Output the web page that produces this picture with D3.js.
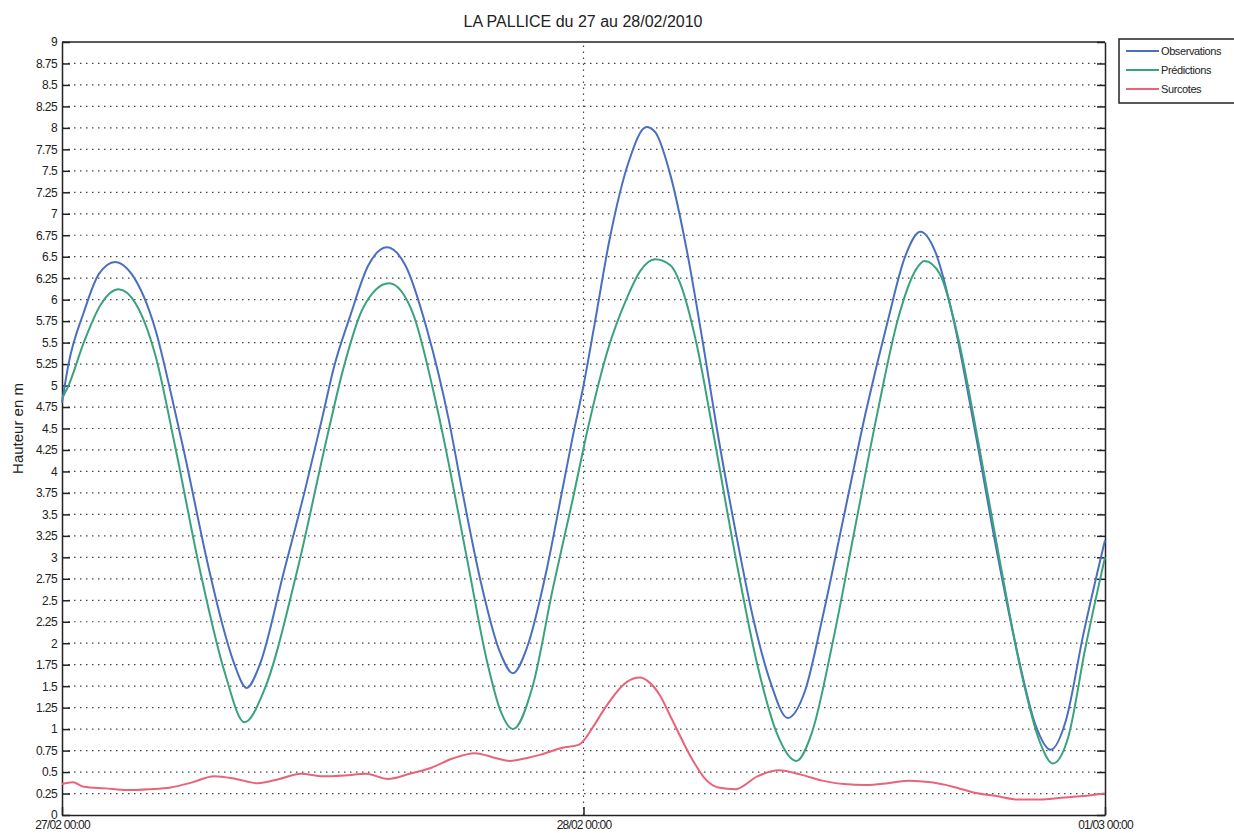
<!DOCTYPE html>
<html lang="fr">
<head>
<meta charset="UTF-8">
<title>LA PALLICE du 27 au 28/02/2010</title>
<style>
    body {
        margin: 0;
        background: #fff;
        font-family: 'Liberation Sans', Arial, sans-serif;
    }
    svg text { fill: #222; }
</style>
<script src="https://d3js.org/d3.v7.min.js"></script>
</head>
<body>
<div id="chart"></div>
<script>
    // [hours since 27/02 00:00, height in m]
    const observations = [
        [0, 4.80], [0.3, 5.25], [1, 5.85], [1.7, 6.30], [2.45, 6.44], [3.2, 6.30],
        [4.3, 5.65], [5.05, 4.87], [5.6, 4.25], [6.8, 2.82], [7.4, 2.20], [7.9, 1.78],
        [8.5, 1.48], [9.1, 1.75], [10.2, 2.82], [11.2, 3.80], [12.0, 4.65], [12.5, 5.20],
        [13.25, 5.80], [14.1, 6.40], [14.95, 6.61], [15.8, 6.40], [16.8, 5.65], [17.8, 4.60],
        [18.4, 3.80], [19.25, 2.74], [20.15, 1.90], [20.75, 1.65], [21.4, 1.95], [22.3, 2.85],
        [23.0, 3.75], [23.5, 4.40], [24.0, 5.00], [24.5, 5.70], [25.2, 6.70], [26.1, 7.62],
        [26.9, 8.01], [27.3, 7.95], [28.0, 7.45], [28.75, 6.58], [29.5, 5.49], [30.15, 4.48],
        [31.0, 3.30], [31.8, 2.30], [32.6, 1.55], [33.4, 1.13], [34.2, 1.45], [35.0, 2.30],
        [36.0, 3.50], [37.0, 4.70], [38.0, 5.75], [38.8, 6.50], [39.5, 6.79], [40.2, 6.55],
        [41.0, 5.80], [42.0, 4.50], [43.0, 3.10], [44.0, 1.85], [44.8, 1.05], [45.5, 0.76],
        [46.2, 1.10], [47.0, 2.10], [48.0, 3.20]
    ];

    const predictions = [
        [0, 4.85], [0.3, 5.00], [1, 5.50], [1.8, 5.95], [2.6, 6.12], [3.4, 5.95],
        [4.3, 5.35], [5.2, 4.30], [6.35, 2.85], [7.5, 1.65], [8.4, 1.08], [9.3, 1.45],
        [10.8, 2.82], [12.2, 4.40], [12.95, 5.20], [13.85, 5.90], [15.05, 6.19], [16.15, 5.84],
        [17.05, 4.98], [17.55, 4.40], [18.65, 2.97], [19.55, 1.80], [20.2, 1.20], [20.75, 1.00],
        [21.65, 1.49], [22.6, 2.65], [23.5, 3.67], [24.2, 4.50], [25.1, 5.40], [26.0, 6.02],
        [26.6, 6.33], [27.3, 6.47], [28.0, 6.40], [28.45, 6.19], [29.2, 5.49], [29.95, 4.48],
        [31.0, 3.00], [32.0, 1.75], [32.9, 0.95], [33.8, 0.63], [34.5, 0.95], [35.5, 2.05],
        [36.5, 3.35], [37.5, 4.65], [38.5, 5.80], [39.3, 6.35], [39.7, 6.45], [40.4, 6.30],
        [41.2, 5.60], [42.2, 4.30], [43.2, 2.90], [44.2, 1.60], [45.0, 0.85], [45.6, 0.60],
        [46.3, 0.90], [47.1, 1.95], [48.0, 3.00]
    ];

    const surcotes = [
        [0, 0.36], [0.5, 0.38], [1, 0.33], [2, 0.31], [3, 0.29], [4, 0.30], [5, 0.32],
        [6, 0.38], [7, 0.45], [8, 0.42], [9, 0.37], [10, 0.42], [11, 0.48], [12, 0.45],
        [13, 0.46], [14, 0.48], [15, 0.42], [16, 0.48], [17, 0.55], [18, 0.66], [19, 0.72],
        [20, 0.66], [20.6, 0.63], [21.5, 0.67], [22, 0.70], [23, 0.78], [23.8, 0.82],
        [24.5, 1.05], [25, 1.25], [26, 1.55], [26.6, 1.60], [27, 1.55], [27.5, 1.40],
        [28, 1.15], [29, 0.65], [29.6, 0.42], [30.2, 0.32], [31, 0.30], [32, 0.45],
        [33, 0.52], [34, 0.47], [35, 0.40], [36, 0.36], [37, 0.35], [38, 0.37], [39, 0.40],
        [40, 0.38], [41, 0.33], [42, 0.26], [43, 0.22], [44, 0.18], [45, 0.18], [46, 0.20],
        [47, 0.22], [48, 0.25]
    ];

    const yTicks = d3.range(0, 9.001, 0.25);
    const xTicks = [0, 24, 48];
    const xTickLabels = ["27/02 00:00", "28/02 00:00", "01/03 00:00"];

    const seriesNames = ["Observations", "Prédictions", "Surcotes"];
    const seriesColors = ["#4a6fbf", "#3aa27c", "#e8647a"];

    const width = 1234, height = 833;
    const margin = {left: 62, right: 129, top: 42, bottom: 18};

    const svg = d3.select("#chart").append("svg")
        .attr("width", width)
        .attr("height", height);

    const x = d3.scaleLinear()
        .domain([0, 48])
        .range([margin.left, width - margin.right]);

    const y = d3.scaleLinear()
        .domain([0, 9])
        .range([height - margin.bottom, margin.top]);

    // dotted grid
    svg.append("g")
        .selectAll("line")
        .data(yTicks.slice(1, -1))
        .join("line")
        .attr("x1", x(0)).attr("x2", x(48))
        .attr("y1", d => y(d)).attr("y2", d => y(d))
        .attr("stroke", "#444")
        .attr("stroke-width", 1.2)
        .attr("stroke-dasharray", "1.5,4.5");

    svg.append("line")
        .attr("x1", x(24)).attr("x2", x(24))
        .attr("y1", y(0)).attr("y2", y(9))
        .attr("stroke", "#444")
        .attr("stroke-width", 1.2)
        .attr("stroke-dasharray", "1.5,4.5");

    // axes (ticks pointing inwards, matlab style)
    const fmt = d => String(+d.toFixed(2));

    svg.append("g")
        .attr("transform", `translate(${x(0)},0)`)
        .call(d3.axisLeft(y).tickValues(yTicks).tickFormat(fmt).tickSizeInner(-8).tickSizeOuter(0).tickPadding(5))
        .call(g => g.select(".domain").attr("stroke", "#222").attr("stroke-width", 1.5))
        .call(g => g.selectAll(".tick line").attr("stroke", "#222").attr("stroke-width", 1.5))
        .call(g => g.selectAll(".tick text").attr("font-size", 12).attr("font-family", "'Liberation Sans', Arial, sans-serif").attr("fill", "#222").attr("letter-spacing", -0.6));

    svg.append("g")
        .attr("transform", `translate(${x(48)},0)`)
        .call(d3.axisRight(y).tickValues(yTicks).tickFormat("").tickSizeInner(-8).tickSizeOuter(0))
        .call(g => g.select(".domain").attr("stroke", "#222").attr("stroke-width", 1.5))
        .call(g => g.selectAll(".tick line").attr("stroke", "#222").attr("stroke-width", 1.5));

    svg.append("g")
        .attr("transform", `translate(0,${y(0)})`)
        .call(d3.axisBottom(x).tickValues(xTicks).tickFormat((d, i) => xTickLabels[i]).tickSizeInner(-8).tickSizeOuter(0).tickPadding(7))
        .call(g => g.select(".domain").attr("stroke", "#222").attr("stroke-width", 1.5))
        .call(g => g.selectAll(".tick line").attr("stroke", "#222").attr("stroke-width", 1.5))
        .call(g => g.selectAll(".tick text").attr("font-size", 12).attr("font-family", "'Liberation Sans', Arial, sans-serif").attr("fill", "#222").attr("letter-spacing", -0.8).attr("dy", "0.55em"));

    svg.append("line")
        .attr("x1", x(0)).attr("x2", x(48))
        .attr("y1", y(9)).attr("y2", y(9))
        .attr("stroke", "#222").attr("stroke-width", 1.5);

    // curves
    const line = d3.line()
        .x(d => x(d[0]))
        .y(d => y(d[1]))
        .curve(d3.curveMonotoneX);

    [observations, predictions, surcotes].forEach((s, k) => {
        svg.append("path")
            .datum(s)
            .attr("d", line)
            .attr("fill", "none")
            .attr("stroke", seriesColors[k])
            .attr("stroke-width", 2);
    });

    // title and y label
    svg.append("text")
        .attr("x", 583).attr("y", 27)
        .attr("text-anchor", "middle")
        .attr("font-size", 16)
        .text("LA PALLICE du 27 au 28/02/2010");

    svg.append("text")
        .attr("transform", `translate(23,${(y(0) + y(9)) / 2}) rotate(-90)`)
        .attr("text-anchor", "middle")
        .attr("font-size", 15)
        .text("Hauteur en m");

    // legend
    const legend = svg.append("g").attr("transform", "translate(1119,39)");
    legend.append("rect")
        .attr("width", 118).attr("height", 64)
        .attr("fill", "#fff")
        .attr("stroke", "#222").attr("stroke-width", 1.5);

    seriesNames.forEach((name, k) => {
        const ly = 12 + k * 19;
        legend.append("line")
            .attr("x1", 7).attr("x2", 40)
            .attr("y1", ly).attr("y2", ly)
            .attr("stroke", seriesColors[k]).attr("stroke-width", 2);
        legend.append("text")
            .attr("x", 42).attr("y", ly + 4)
            .attr("font-size", 11)
            .attr("letter-spacing", -0.4)
            .text(name);
    });
</script>
</body>
</html>
